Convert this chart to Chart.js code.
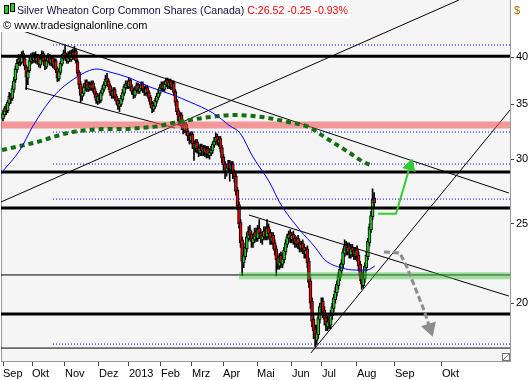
<!DOCTYPE html>
<html>
<head>
<meta charset="utf-8">
<script src="https://cdn.jsdelivr.net/npm/chart.js@4.4.0/dist/chart.umd.min.js"></script>
<style>
html, body { margin: 0; padding: 0; background: #fff; }
#wrap { width: 530px; height: 380px; position: relative; }
</style>
</head>
<body>
<div id="wrap"><canvas id="chart"></canvas></div>
<script>
// daily bars Sep 2012 - Aug 2013 (bar number 1..240)
var open = [
  33.6,34.0,34.7,34.4,35.1,35.9,35.6,36.5,37.5,38.6,39.4,39.9,39.4,40.4,39.8,38.9,37.7,38.5,39.5,40.2,
  39.6,40.3,39.5,40.1,39.1,39.9,40.4,39.6,38.9,39.5,40.1,39.3,39.9,39.0,39.6,38.7,37.6,38.3,39.2,39.8,
  40.5,40.1,39.5,40.4,39.7,40.6,39.9,40.7,39.5,38.3,37.1,35.8,36.1,36.7,37.3,36.5,37.1,36.6,37.2,36.6,
  36.1,35.3,35.9,35.4,36.1,36.5,36.9,37.7,37.4,36.9,36.3,35.8,36.5,35.8,35.4,34.8,35.0,35.5,36.1,36.7,
  37.2,36.8,37.5,36.8,36.4,35.9,36.4,37.0,36.3,36.6,37.1,36.6,36.1,36.7,36.2,35.7,35.1,34.5,34.8,35.3,
  35.7,36.1,36.6,37.1,36.5,37.0,37.5,36.8,37.4,36.7,37.2,36.3,35.3,34.4,33.3,34.0,33.0,32.5,33.1,32.5,
  32.1,31.6,32.2,31.4,30.9,31.5,31.0,30.5,31.1,30.6,31.0,30.4,30.9,30.3,30.5,30.7,31.2,31.5,32.0,31.4,
  31.8,31.0,30.2,29.6,28.9,29.2,29.7,29.1,29.6,28.9,28.6,27.5,26.4,25.1,23.9,22.4,22.8,23.3,24.0,24.6,
  24.3,23.7,23.9,24.5,24.0,24.7,24.4,23.9,24.1,24.6,24.1,24.8,24.4,23.8,24.2,23.7,23.3,22.7,22.2,22.9,
  22.3,22.6,23.1,23.6,24.0,24.4,23.9,24.3,24.0,23.6,24.0,23.7,23.3,23.7,23.4,22.9,23.3,22.5,21.3,20.1,
  19.1,18.6,18.0,18.3,19.1,19.6,20.1,19.6,19.2,18.7,19.1,18.8,19.3,19.7,20.2,20.6,21.0,21.5,21.9,22.3,
  23.0,23.6,23.1,23.5,22.9,23.4,23.2,22.8,23.3,22.9,22.3,21.7,21.0,21.4,22.1,22.8,23.7,24.6,25.5,26.9
];
var high = [
  34.4,34.8,35.0,35.4,36.2,36.1,36.9,37.8,39.0,39.7,40.3,40.2,40.6,40.7,40.0,39.1,38.7,39.9,40.4,40.5,
  40.5,40.6,40.3,40.3,40.1,40.7,40.6,39.8,39.9,40.4,40.3,40.1,40.1,39.8,39.8,38.9,38.7,39.5,40.3,40.8,
  41.4,40.4,40.6,40.7,40.8,40.9,41.2,40.9,39.7,38.5,37.3,36.5,37.1,37.5,37.5,37.3,37.3,37.4,37.4,36.8,
  36.3,36.0,36.1,36.4,36.9,37.3,38.0,38.2,37.6,37.1,36.5,36.7,36.7,36.0,35.6,35.4,35.9,36.5,37.0,37.4,
  37.4,37.7,37.6,37.0,36.6,36.8,37.2,37.2,37.0,37.3,37.3,36.8,36.9,36.9,36.4,35.9,35.3,35.2,35.6,36.1,
  36.5,37.0,37.3,37.3,37.4,37.7,37.7,37.6,37.6,37.4,37.4,36.5,35.5,34.6,34.2,34.2,33.3,33.3,33.3,32.7,
  32.3,32.4,32.4,31.6,31.7,31.7,31.2,31.3,31.3,31.2,31.2,31.1,31.1,30.9,31.1,31.5,31.9,32.3,32.2,32.0,
  32.0,31.2,30.4,29.8,29.6,29.9,29.9,29.8,29.8,29.1,28.8,27.7,26.6,25.3,24.1,23.2,23.7,24.4,24.8,24.9,
  24.5,24.3,24.7,24.7,24.9,25.3,24.6,24.4,24.8,24.8,25.3,25.0,24.6,24.4,24.4,23.9,23.5,22.9,23.0,23.1,
  23.0,23.4,23.9,24.3,24.5,24.6,24.4,24.5,24.2,24.1,24.2,23.9,23.8,23.9,23.6,23.4,23.5,22.7,21.5,20.3,
  19.3,18.8,18.8,19.4,20.0,20.3,20.3,19.8,19.4,19.3,19.3,19.6,20.0,20.5,20.9,21.3,21.8,22.3,22.6,23.3,
  23.9,23.8,23.7,23.7,23.6,23.6,23.4,23.4,23.5,23.1,22.5,21.9,21.8,22.4,23.1,24.0,25.0,25.9,27.6,27.3
];
var low = [
  33.4,33.8,34.0,34.2,34.9,35.1,35.4,36.2,37.2,38.3,39.1,39.0,39.2,39.5,38.6,36.5,37.0,38.3,39.2,39.3,
  39.4,39.3,39.2,38.9,38.8,39.6,39.2,38.6,38.7,39.3,39.1,39.0,38.8,38.7,38.3,37.3,37.4,38.1,39.0,39.6,
  39.8,39.3,39.3,39.5,39.5,39.7,39.7,39.3,37.9,36.6,35.2,35.4,35.9,36.4,36.3,36.3,36.4,36.4,36.2,35.7,
  35.1,35.0,35.1,35.2,35.9,36.3,36.7,37.0,36.5,35.9,35.6,35.6,35.4,35.0,34.5,34.3,34.8,35.3,35.9,36.5,
  36.6,36.6,36.4,36.0,35.6,35.7,36.2,36.1,36.1,36.4,36.2,35.9,35.9,35.8,35.3,34.7,34.2,34.3,34.6,35.1,
  35.5,35.9,36.4,36.3,36.3,36.8,36.6,36.6,36.5,36.5,35.9,34.9,34.0,33.0,33.0,32.6,32.2,32.3,32.1,31.6,
  31.3,31.4,30.9,29.9,30.6,30.5,30.2,30.3,30.3,30.3,30.2,30.1,30.1,30.0,30.3,30.5,31.0,31.3,31.2,31.1,
  30.6,29.7,29.1,28.4,28.6,29.0,28.2,28.8,28.4,28.1,27.1,26.0,24.7,23.4,21.6,22.1,22.6,23.1,23.8,23.9,
  23.4,23.4,23.7,23.8,23.8,24.0,23.7,23.6,23.9,23.9,23.9,24.0,23.6,23.6,23.3,22.9,21.6,22.0,22.0,22.1,
  22.1,22.4,22.9,23.4,23.8,23.7,23.7,23.6,23.4,23.4,23.3,23.1,23.1,23.0,22.7,22.7,22.1,20.9,19.7,18.7,
  18.1,17.7,17.8,18.1,18.9,19.4,19.2,18.8,18.5,18.5,18.6,18.6,19.1,19.5,20.0,20.4,20.8,21.3,21.7,22.1,
  22.8,22.9,22.9,22.7,22.7,22.8,22.6,22.6,22.5,21.9,21.3,20.8,20.9,21.2,21.9,22.6,23.5,24.4,25.3,26.2
];
var close = [
  34.1,34.6,34.3,35.2,35.8,35.5,36.6,37.4,38.7,39.3,39.8,39.5,40.3,39.9,39.0,37.8,38.4,39.6,40.1,39.7,
  40.2,39.6,40.0,39.2,39.8,40.3,39.5,39.0,39.6,40.0,39.4,39.8,39.1,39.5,38.6,37.7,38.4,39.3,39.9,40.4,
  40.0,39.6,40.3,39.8,40.5,40.0,40.6,39.6,38.2,37.0,35.9,36.2,36.8,37.2,36.6,37.0,36.7,37.1,36.5,36.0,
  35.4,35.8,35.5,36.2,36.6,37.0,37.6,37.3,36.8,36.2,35.9,36.4,35.7,35.3,34.9,35.1,35.6,36.2,36.8,37.1,
  36.9,37.4,36.7,36.3,36.0,36.5,36.9,36.4,36.7,37.0,36.5,36.2,36.6,36.1,35.6,35.0,34.6,34.9,35.4,35.8,
  36.2,36.7,37.0,36.6,37.1,37.4,36.9,37.3,36.8,37.1,36.2,35.2,34.3,33.4,33.9,32.9,32.6,33.0,32.4,32.0,
  31.7,32.1,31.3,31.0,31.4,30.9,30.6,31.0,30.7,30.9,30.5,30.8,30.4,30.6,30.8,31.3,31.6,31.9,31.5,31.7,
  30.9,30.1,29.5,29.0,29.3,29.6,29.2,29.5,28.8,28.5,27.4,26.3,25.0,23.7,22.5,22.9,23.4,24.1,24.5,24.2,
  23.8,24.0,24.4,24.1,24.6,24.3,24.0,24.2,24.5,24.2,24.7,24.3,23.9,24.1,23.6,23.2,22.6,22.3,22.8,22.4,
  22.7,23.2,23.7,24.1,24.3,24.0,24.2,23.9,23.7,23.9,23.6,23.4,23.6,23.3,23.0,23.2,22.4,21.2,20.0,19.0,
  18.5,18.1,18.4,19.2,19.8,20.0,19.5,19.1,18.8,19.0,18.9,19.4,19.8,20.3,20.7,21.1,21.6,22.0,22.4,23.1,
  23.5,23.2,23.4,23.0,23.3,23.1,22.9,23.2,22.8,22.2,21.6,21.1,21.5,22.2,22.9,23.8,24.8,25.6,26.77,26.52
];

// axis
var monthPos = [1, 19.7, 40.9, 62.8, 82.1, 102.7, 122.7, 142.7, 164.6, 187.1, 206.4, 228.9, 253.4, 283.7];
var monthLabels = ['Sep', 'Okt', 'Nov', 'Dez', '2013', 'Feb', 'Mrz', 'Apr', 'Mai', 'Jun', 'Jul', 'Aug', 'Sep', 'Okt'];
var priceTicks = [20, 25, 30, 35, 40];
var XMIN = -0.29, XMAX = 327.5, YMIN = 16.99, YMAX = 46.97;

// moving averages (read at some bars)
var avgBlueX = [0.4, 11.9, 20.3, 33.2, 48.6, 61.5, 69.9, 82.8, 95.7, 110.5, 121.4, 136.2, 147.2, 153.6, 162, 172.9, 179.4, 192.2, 201.9, 208.3, 219.3, 227.7, 235.4, 240.5];
var avgBlueY = [28.93, 30.78, 32.94, 35.74, 37.81, 38.67, 38.34, 37.70, 36.76, 35.94, 35.24, 34.16, 32.94, 32.29, 30.18, 28.05, 26.51, 24.57, 23.42, 22.58, 22.08, 21.95, 21.95, 22.20];
var avgGreenX = [0.4, 11.9, 22.9, 33.2, 44.1, 55.1, 66.7, 76.3, 89.2, 100.2, 110.5, 121.4, 136.2, 149.1, 166.5, 183.9, 198.7, 203.8, 212.8, 223.1, 232.8, 238.6];
var avgGreenY = [30.78, 31.13, 31.48, 31.93, 32.34, 32.56, 32.65, 32.65, 32.75, 32.90, 33.21, 33.50, 33.81, 33.97, 33.81, 33.34, 32.79, 32.32, 31.51, 30.63, 29.78, 29.45];

// levels
var thickLevels = [40.1, 28.93, 26.14, 19.39];
var thinLevels = [21.65, 17.62];
var dottedLevels = [41.38, 32.38, 29.59, 26.81, 17.82];
var dottedStart = 33.2;
var redZone = 33.03;
var greenZone = 21.6, greenZoneStart = 153;

// trend lines: x1, y1, x2, y2
var trendLines = [
  [10, 43.28, 326.8, 27.27],
  [15.2, 36.66, 111.7, 32.75],
  [-0.29, 26.59, 294.6, 46.97],
  [199.3, 17.38, 327.5, 34.45],
  [159.4, 25.63, 326.8, 20.40]
];
var upArrowX = [242.5, 254.1, 263.1], upArrowY = [25.72, 25.72, 29.42];
var downArrowX = [246.3, 256.6, 261.1, 272.1, 275.9], downArrowY = [23.10, 23.03, 22.14, 19.61, 18.64];

function pts(xs, ys) {
  return xs.map(function(x, i) { return {x: x, y: ys[i]}; });
}
function seg(x1, y1, x2, y2) {
  return [{x: x1, y: y1}, {x: x2, y: y2}];
}
function lineSet(data, color, width, order, dash) {
  return {type: 'line', data: data, borderColor: color, borderWidth: width, borderDash: dash || [],
    pointRadius: 0, tension: 0, fill: false, order: order};
}

var wicks = [], bodies = [], bodyColors = [];
for (var i = 0; i < close.length; i++) {
  wicks.push({x: i + 1, y: [low[i], high[i]]});
  bodies.push({x: i + 1, y: [open[i], close[i]]});
  bodyColors.push(close[i] >= open[i] ? '#1ed21e' : '#e80000');
}

var datasets = [
  {type: 'bar', data: wicks, backgroundColor: '#000', barThickness: 1, grouped: false, order: 20},
  {type: 'bar', data: bodies, backgroundColor: bodyColors, borderColor: '#000', borderWidth: 1,
    borderSkipped: false, barThickness: 3, minBarLength: 2, grouped: false, order: 19}
];
thickLevels.forEach(function(v) { datasets.push(lineSet(seg(XMIN, v, XMAX, v), '#000', 3, 6)); });
thinLevels.forEach(function(v) { datasets.push(lineSet(seg(XMIN, v, XMAX, v), '#000', 1, 6)); });
dottedLevels.forEach(function(v) { datasets.push(lineSet(seg(dottedStart, v, XMAX, v), '#0000ff', 1, 6, [1, 2])); });
trendLines.forEach(function(t) { datasets.push(lineSet(seg(t[0], t[1], t[2], t[3]), '#000', 1, 6)); });
datasets.push(lineSet(seg(XMIN, redZone, XMAX, redZone), 'rgba(240,90,90,0.6)', 7, 5));
datasets.push(lineSet(seg(greenZoneStart, greenZone, XMAX, greenZone), 'rgba(60,190,60,0.45)', 7, 5));

var blue = lineSet(pts(avgBlueX, avgBlueY), '#0000ff', 1, 4);
blue.cubicInterpolationMode = 'monotone';
datasets.push(blue);
var green = lineSet(pts(avgGreenX, avgGreenY), '#107010', 4, 4, [5, 4]);
green.cubicInterpolationMode = 'monotone';
datasets.push(green);

var up = lineSet(pts(upArrowX, upArrowY), '#33cc33', 2, 3);
up.pointRadius = [0, 0, 6]; up.pointStyle = 'triangle'; up.pointRotation = 17;
up.pointBackgroundColor = '#33cc33'; up.pointBorderColor = '#33cc33';
datasets.push(up);
var down = lineSet(pts(downArrowX, downArrowY), '#8c8c8c', 3, 3, [6, 3]);
down.pointRadius = [0, 0, 0, 0, 6]; down.pointStyle = 'triangle'; down.pointRotation = 162;
down.pointBackgroundColor = '#8c8c8c'; down.pointBorderColor = '#8c8c8c';
datasets.push(down);

var decor = {
  id: 'decor',
  beforeDraw: function(chart) {
    var a = chart.chartArea, c = chart.ctx;
    c.save();
    c.fillStyle = '#f5f5f5';
    c.fillRect(a.left, a.top, a.right - a.left, a.bottom - a.top);
    c.strokeStyle = '#999';
    c.lineWidth = 1;
    c.beginPath(); c.moveTo(a.left + 0.5, a.top); c.lineTo(a.left + 0.5, a.bottom); c.stroke();
    c.restore();
  },
  afterDraw: function(chart) {
    var c = chart.ctx;
    c.save();
    c.font = '10.6px "Liberation Sans", Arial, sans-serif';
    var title = 'Silver Wheaton Corp Common Shares (Canada) ';
    var quote = 'C:26.52 -0.25 -0.93%';
    var w1 = c.measureText(title).width, w2 = c.measureText(quote).width;
    c.fillStyle = '#fff';
    c.fillRect(0, 0, 19 + w1 + w2, 18);
    c.fillRect(0, 18, 150, 14);
    c.textBaseline = 'alphabetic';
    c.fillStyle = '#101040';
    c.fillText(title, 17, 14);
    c.fillStyle = '#ff0000';
    c.fillText(quote, 17 + w1, 14);
    c.fillStyle = '#000';
    c.font = '11px "Liberation Sans", Arial, sans-serif';
    c.fillText('\u00a9 www.tradesignalonline.com', 3, 29);
    // small candle icon
    c.fillStyle = '#1ed21e';
    c.strokeStyle = '#000';
    c.lineWidth = 1;
    c.fillRect(5, 6, 3, 7); c.strokeRect(4.5, 5.5, 4, 8);
    c.fillRect(11, 4, 3, 7); c.strokeRect(10.5, 3.5, 4, 8);
    // currency label
    c.fillStyle = '#a06a00';
    c.fillText('$', 514, 14);
    // resize grip
    c.strokeStyle = '#777';
    c.strokeRect(502.5, 353.5, 7, 7);
    c.beginPath(); c.moveTo(503, 360); c.lineTo(509, 354); c.stroke();
    c.restore();
  }
};

Chart.defaults.font.family = '"Liberation Sans", Arial, sans-serif';
Chart.defaults.font.size = 11;
Chart.defaults.color = '#000';

new Chart(document.getElementById('chart'), {
  type: 'bar',
  data: {datasets: datasets},
  options: {
    responsive: true,
    maintainAspectRatio: false,
    animation: false,
    events: [],
    layout: {autoPadding: false, padding: {left: 1, top: 0, right: 0, bottom: 0}},
    plugins: {legend: {display: false}, tooltip: {enabled: false}},
    scales: {
      x: {
        type: 'linear', min: XMIN, max: XMAX, offset: false, bounds: 'data',
        grid: {drawOnChartArea: false, tickLength: 5, color: '#444', offset: false},
        border: {display: true, color: '#999'},
        ticks: {autoSkip: false, maxRotation: 0, align: 'start', padding: 1,
          callback: function(v, i) { return monthLabels[i]; }},
        afterBuildTicks: function(s) { s.ticks = monthPos.map(function(v) { return {value: v}; }); },
        afterFit: function(s) { s.height = 19; s.paddingLeft = 0; s.paddingRight = 0; }
      },
      y: {
        type: 'logarithmic', position: 'right', min: YMIN, max: YMAX, bounds: 'data',
        grid: {drawOnChartArea: false, tickLength: 4, color: '#444'},
        border: {display: true, color: '#999'},
        ticks: {padding: 2, callback: function(v) { return String(v); }},
        afterBuildTicks: function(s) { s.ticks = priceTicks.map(function(v) { return {value: v}; }); },
        afterFit: function(s) { s.width = 20; s.paddingTop = 0; s.paddingBottom = 0; }
      }
    }
  },
  plugins: [decor]
});
</script>
</body>
</html>
